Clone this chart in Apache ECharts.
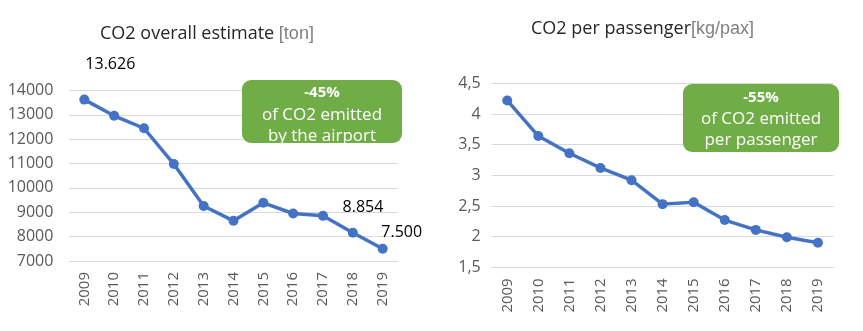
<!DOCTYPE html>
<html><head><meta charset="utf-8">
<script src="https://cdn.jsdelivr.net/npm/echarts@6/dist/echarts.min.js"></script>
<style>html,body{margin:0;padding:0;background:#fff}#c{width:863px;height:331px}</style>
</head><body><div id="c"></div>
<script>
const years = ['2009','2010','2011','2012','2013','2014','2015','2016','2017','2018','2019'];
const co2Total = [13626, 12960, 12450, 10980, 9260, 8650, 9390, 8950, 8854, 8160, 7500];
const co2PerPax = [4.22, 3.64, 3.36, 3.12, 2.92, 2.53, 2.56, 2.27, 2.11, 1.99, 1.90];
const totalTicks = {min: 7000, max: 14000, step: 1000};
const paxTicks = {min: 1.5, max: 4.5, step: 0.5};
const labelledTotalIdx = [0, 8, 10];

const FONT = '"Open Sans", sans-serif';
const BLUE = '#4472C4';
const GREEN = '#70AD47';
const GRID = '#D9D9D9';
const AXIS_TXT = '#595959';

const labelOffsets = {0: [26, -35], 8: [40, -8], 10: [19, -16]};
function fmtDot(v){ return String(v).replace(/\B(?=(\d{3})+(?!\d))/g, '.'); }

const totalData = co2Total.map((v, i) => {
  if (labelledTotalIdx.indexOf(i) < 0) return v;
  return {value: v, label: {show: true, position: 'inside', offset: labelOffsets[i],
    formatter: p => fmtDot(p.value), color: '#000', fontSize: 16, fontFamily: FONT}};
});

const chart = echarts.init(document.getElementById('c'), null, {renderer: 'canvas'});
function xAxis(gi){
  return {type: 'category', gridIndex: gi, data: years, boundaryGap: true,
    axisLine: {show: true, lineStyle: {color: GRID, width: 1}}, axisTick: {show: false},
    axisLabel: {rotate: 90, color: AXIS_TXT, fontSize: 15, fontFamily: FONT, margin: 11}};
}
function yAxis(gi, t, fmt, margin){
  return {type: 'value', gridIndex: gi, min: t.min, max: t.max, interval: t.step,
    axisLine: {show: false}, axisTick: {show: false},
    splitLine: {lineStyle: {color: GRID, width: 1}},
    axisLabel: {color: AXIS_TXT, fontSize: 16, fontFamily: FONT, margin: margin, formatter: fmt}};
}
function box(x, y, w, h, lines){
  const cx = x + w / 2;
  return {type: 'group', z: 100, children: [
    {type: 'rect', z: 100, shape: {x: x, y: y, width: w, height: h, r: 9}, style: {fill: GREEN}},
    ...lines.map(l => ({type: 'text', z: 101, style: {text: l.t, x: cx, y: l.y, fill: '#fff',
      fontSize: l.s, fontWeight: l.b ? 'bold' : 'normal', fontFamily: FONT,
      align: 'center', verticalAlign: 'middle', textAlign: 'center', textVerticalAlign: 'middle'}}))
  ]};
}
const titleRich = {
  a: {fontSize: 18, color: '#262626', fontFamily: FONT, fontWeight: 'normal'},
  b: {fontSize: 18, color: '#7F7F7F', fontFamily: '"Liberation Sans", sans-serif', fontWeight: 'normal'}
};
chart.setOption({
  animation: false,
  title: [
    {text: '{a|CO2 overall estimate }{b|[ton]}', left: 95, top: 20,
      textStyle: {fontWeight: 'normal', rich: titleRich}},
    {text: '{a|CO2 per passenger}{b|[kg/pax]}', left: 526, top: 15,
      textStyle: {fontWeight: 'normal', rich: titleRich}}
  ],
  grid: [
    {left: 69.4, right: 465.4, top: 90.5, bottom: 70},
    {left: 491.7, right: 29.5, top: 83.3, bottom: 63.7}
  ],
  xAxis: [xAxis(0), xAxis(1)],
  yAxis: [
    yAxis(0, totalTicks, v => String(v), 16),
    yAxis(1, paxTicks, v => String(v).replace('.', ','), 11)
  ],
  series: [
    {type: 'line', xAxisIndex: 0, yAxisIndex: 0, data: totalData, symbol: 'circle', symbolSize: 10,
      lineStyle: {color: BLUE, width: 3.5}, itemStyle: {color: BLUE}},
    {type: 'line', xAxisIndex: 1, yAxisIndex: 1, data: co2PerPax, symbol: 'circle', symbolSize: 10,
      lineStyle: {color: BLUE, width: 3.5}, itemStyle: {color: BLUE}}
  ],
  graphic: [
    box(242, 80, 160, 63, [{t: '-45%', y: 93, s: 15, b: true}, {t: 'of CO2 emitted', y: 115, s: 17}, {t: 'by the airport', y: 136, s: 17}]),
    box(683, 84, 156, 68, [{t: '-55%', y: 98, s: 15, b: true}, {t: 'of CO2 emitted', y: 119, s: 17}, {t: 'per passenger', y: 140, s: 17}])
  ]
});
</script></body></html>
